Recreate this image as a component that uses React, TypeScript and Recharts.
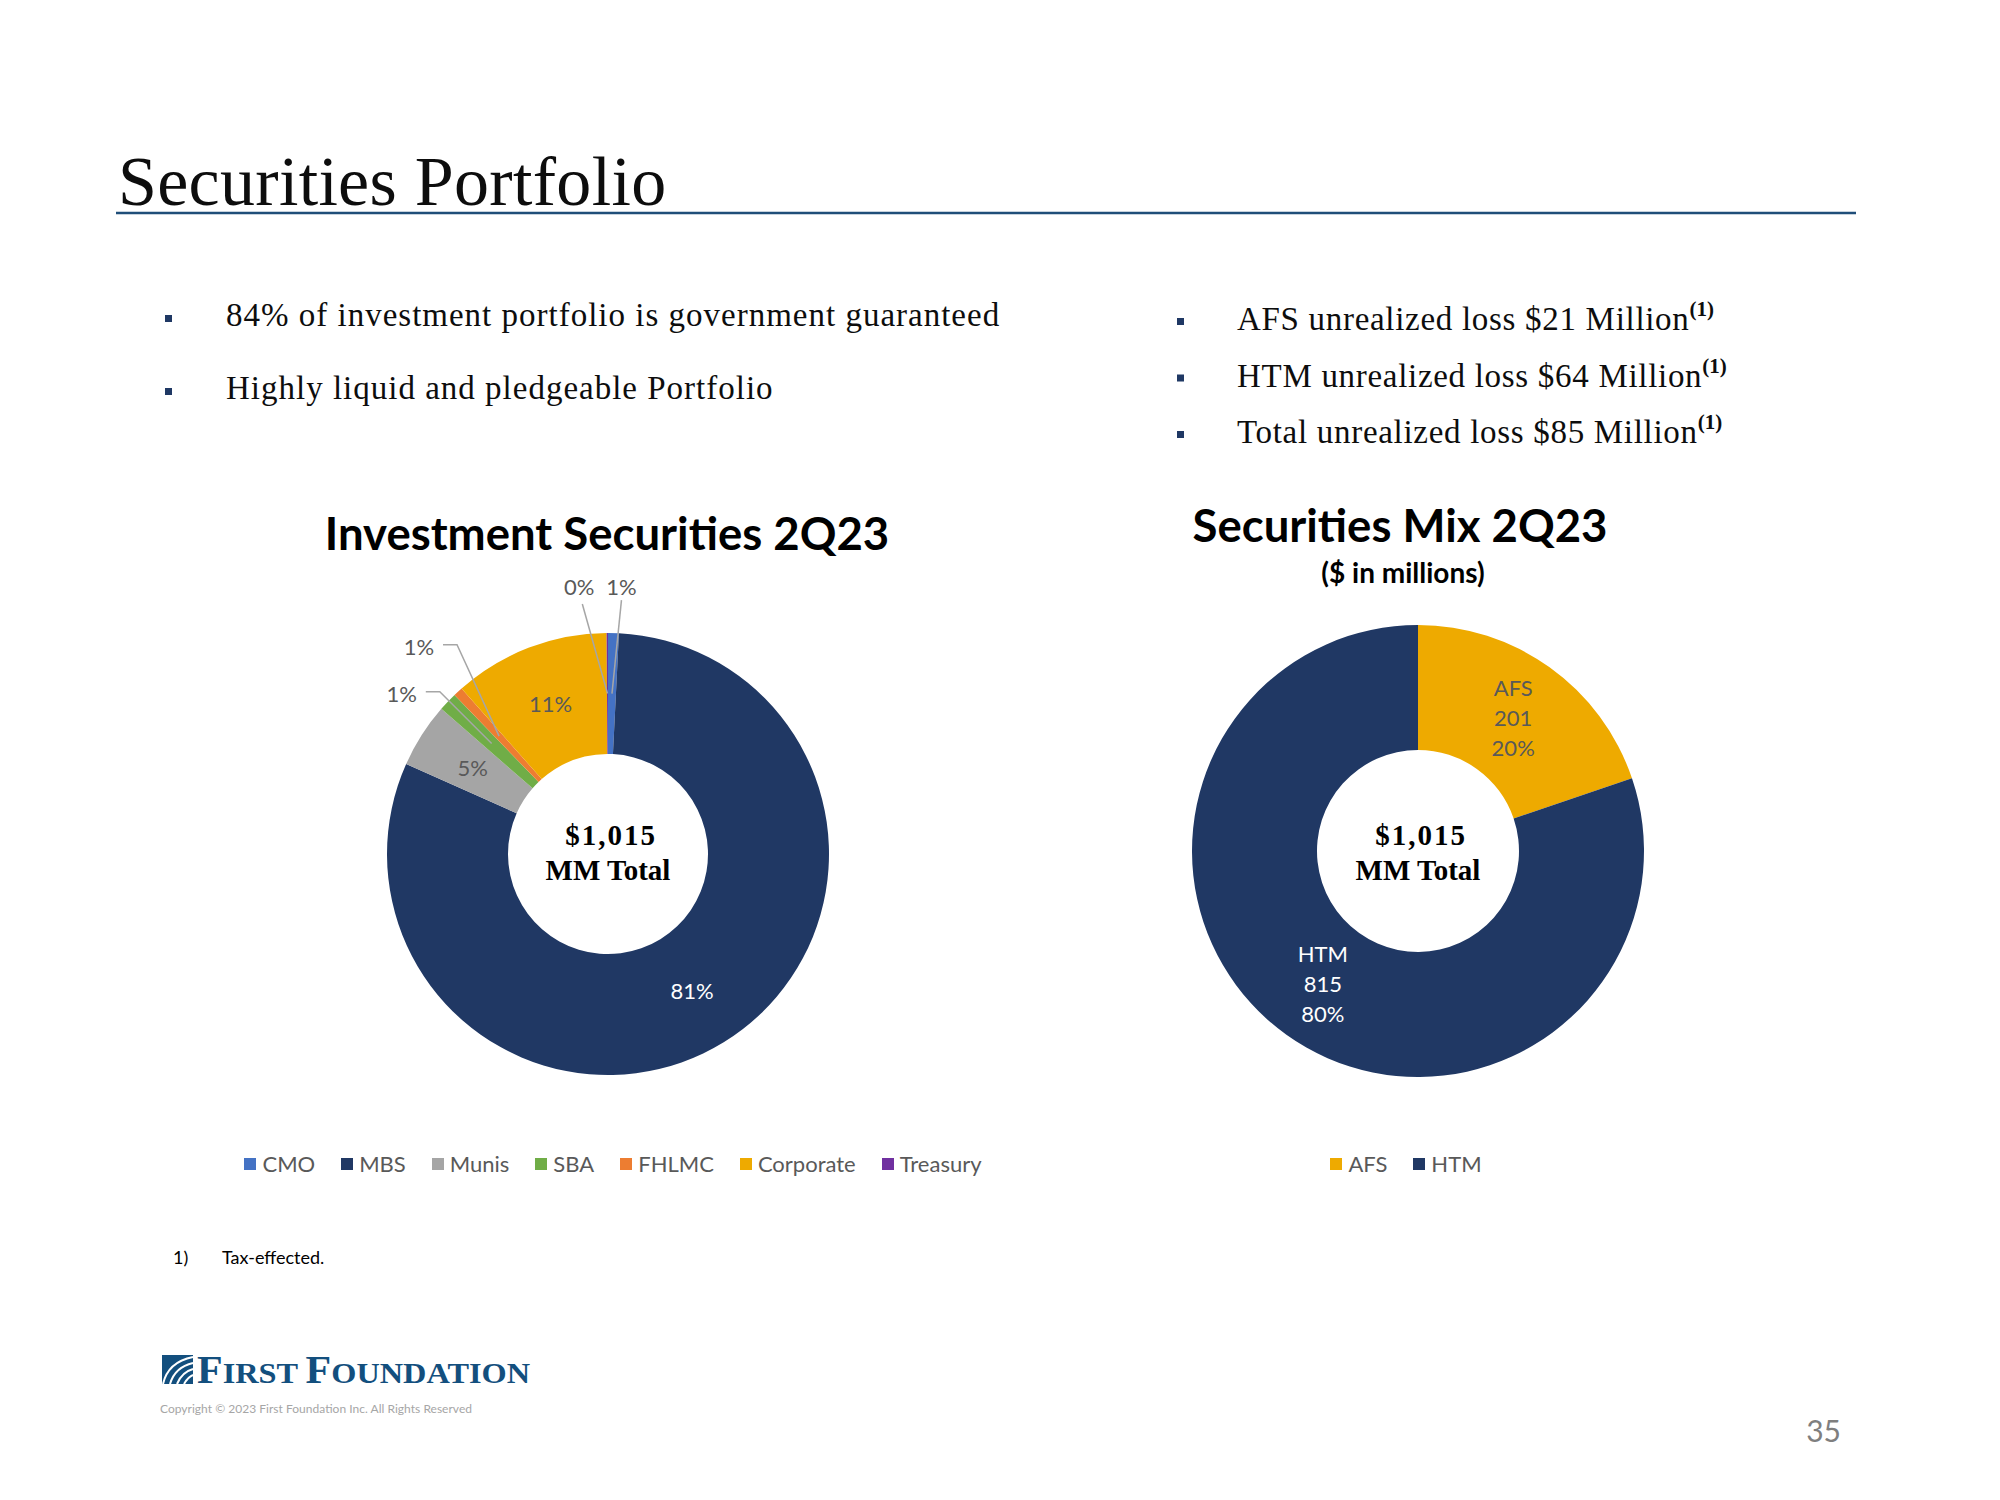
import { PieChart, Pie, Cell, Legend } from "recharts";

// Investment Securities 2Q23 ($MM)
const INV_CATEGORIES = ["CMO", "MBS", "Munis", "SBA", "FHLMC", "Corporate", "Treasury"];
const INV_VALUES = [8, 821, 48, 14, 7, 116, 1];
const INV_COLORS = ["#4472C4", "#203864", "#A5A5A5", "#70AD47", "#ED7D31", "#EEAA00", "#7030A0"];

// Securities Mix 2Q23 ($ in millions)
const MIX_CATEGORIES = ["AFS", "HTM"];
const MIX_VALUES = [201, 815];
const MIX_COLORS = ["#EEAA00", "#203864"];

const CENTER_LINES = ["$1,015", "MM Total"];

const LEFT_BULLETS = ["84% of investment portfolio is government guaranteed", "Highly liquid and pledgeable Portfolio"];
const RIGHT_BULLETS = ["AFS unrealized loss $21 Million", "HTM unrealized loss $64 Million", "Total unrealized loss $85 Million"];

const SERIF = '"Liberation Serif", "Times New Roman", serif';
const SANS = 'Lato, "Open Sans", sans-serif';
const LABEL_GRAY = "#595959";
const RAD = Math.PI / 180;

const invData = INV_CATEGORIES.map((name, i) => ({ name, value: INV_VALUES[i] }));
const mixData = MIX_CATEGORIES.map((name, i) => ({ name, value: MIX_VALUES[i] }));

const polar = (cx: number, cy: number, r: number, deg: number) => ({
  x: cx + r * Math.cos(-deg * RAD),
  y: cy + r * Math.sin(-deg * RAD),
});

// callout placement for the thin slices (offset from the slice's outer edge point)
const INV_CALLOUTS: Record<string, { dx: number; dy: number; ex: number; ey: number; elbow?: boolean }> = {
  CMO: { dx: 8, dy: -46, ex: 0, ey: 13 },
  Treasury: { dx: -28, dy: -46, ex: 3, ey: 17 },
  FHLMC: { dx: -39, dy: -45, ex: 24, ey: -2, elbow: true },
  SBA: { dx: -46, dy: -8, ex: 24, ey: -2, elbow: true },
};

const renderInvLabel = (props: any) => {
  const { cx, cy, midAngle, innerRadius, outerRadius, percent, index } = props;
  const name = INV_CATEGORIES[index];
  const text = `${Math.round(percent * 100)}%`;
  const mid = polar(cx, cy, (innerRadius + outerRadius) / 2, midAngle);
  const c = INV_CALLOUTS[name];
  if (!c) {
    return (
      <text key={name} x={mid.x} y={mid.y + 8} textAnchor="middle" fill={name === "MBS" ? "#fff" : LABEL_GRAY} fontFamily={SANS} fontSize={22}>
        {text}
      </text>
    );
  }
  const edge = polar(cx, cy, outerRadius, midAngle);
  const lx = edge.x + c.dx;
  const ly = edge.y + c.dy;
  const pts = c.elbow
    ? `${mid.x},${mid.y} ${lx + c.ex + 14},${ly + c.ey} ${lx + c.ex},${ly + c.ey}`
    : `${mid.x},${mid.y} ${lx + c.ex},${ly + c.ey}`;
  return (
    <g key={name}>
      <polyline points={pts} fill="none" stroke="#A6A6A6" strokeWidth={1.5} />
      <text x={lx} y={ly + 8} textAnchor="middle" fill={LABEL_GRAY} fontFamily={SANS} fontSize={22}>
        {text}
      </text>
    </g>
  );
};

const renderMixLabel = (props: any) => {
  const { cx, cy, midAngle, innerRadius, outerRadius, percent, index, value } = props;
  const mid = polar(cx, cy, (innerRadius + outerRadius) / 2, midAngle);
  const lines = [MIX_CATEGORIES[index], String(value), `${Math.round(percent * 100)}%`];
  return (
    <text key={index} textAnchor="middle" fill={index === 1 ? "#fff" : LABEL_GRAY} fontFamily={SANS} fontSize={22}>
      {lines.map((l, i) => (
        <tspan key={i} x={mid.x} y={mid.y + 8 + (i - 1) * 30}>
          {l}
        </tspan>
      ))}
    </text>
  );
};

// keep legend entries in data order (recharts sorts them by name otherwise)
const legendContent = (order: string[], shift: number) => (props: any) => {
  const items = [...(props.payload || [])].sort((a: any, b: any) => order.indexOf(a.value) - order.indexOf(b.value));
  return (
    <div style={{ display: "flex", justifyContent: "center", gap: 26, transform: `translateX(${shift}px)` }}>
      {items.map((it: any) => (
        <div key={it.value} style={{ display: "flex", alignItems: "center", gap: 6, fontFamily: SANS, fontSize: 22, color: LABEL_GRAY }}>
          <span style={{ width: 12, height: 12, background: it.color, display: "inline-block" }} />
          <span>{it.value}</span>
        </div>
      ))}
    </div>
  );
};

const CenterText = ({ x }: { x: number }) => (
  <text x={x} textAnchor="middle" fontFamily={SERIF} fontWeight={700} fontSize={29} fill="#000">
    <tspan x={x + 3} y={845} letterSpacing={2}>{CENTER_LINES[0]}</tspan>
    <tspan x={x} y={880}>{CENTER_LINES[1]}</tspan>
  </text>
);

export default function App() {
  return (
    <div style={{ position: "absolute", left: 0, top: 0, width: 2000, height: 1500, background: "#fff", overflow: "hidden" }}>
      <svg width={2000} height={1500} style={{ position: "absolute", left: 0, top: 0 }}>
        <text x={118} y={205} fontFamily={SERIF} fontSize={70} letterSpacing={0.3} fill="#0D0D0D">
          Securities Portfolio
        </text>
        <line x1={116} x2={1856} y1={213} y2={213} stroke="#1F4E79" strokeWidth={2.5} />

        {LEFT_BULLETS.map((t, i) => (
          <g key={t}>
            <rect x={165} y={326 + i * 73 - 11} width={7} height={7} fill="#1F3864" />
            <text x={226} y={326 + i * 73} fontFamily={SERIF} fontSize={33} letterSpacing={1} fill="#0D0D0D">
              {t}
            </text>
          </g>
        ))}
        {RIGHT_BULLETS.map((t, i) => (
          <g key={t}>
            <rect x={1177} y={330 + i * 56.5 - 12} width={7} height={7} fill="#1F3864" />
            <text x={1237} y={330 + i * 56.5} fontFamily={SERIF} fontSize={33} letterSpacing={0.7} fill="#0D0D0D">
              {t}
              <tspan fontSize={21} fontWeight={700} dy={-14} letterSpacing={0}>
                (1)
              </tspan>
            </text>
          </g>
        ))}

        <text x={607} y={550} textAnchor="middle" fontFamily={SANS} fontWeight={700} fontSize={45.5} fill="#000">
          Investment Securities 2Q23
        </text>
        <text x={1400} y={542} textAnchor="middle" fontFamily={SANS} fontWeight={700} fontSize={45.5} fill="#000">
          Securities Mix 2Q23
        </text>
        <text x={1403} y={583} textAnchor="middle" fontFamily={SANS} fontWeight={700} fontSize={28} fill="#000">
          ($ in millions)
        </text>

        <text x={173} y={1264} fontFamily={SANS} fontSize={18} fill="#000">1)</text>
        <text x={222} y={1264} fontFamily={SANS} fontSize={18} fill="#000">Tax-effected.</text>

        <rect x={162} y={1355} width={31} height={29} fill="#134F7E" />
        <path d="M163 1384 Q168 1362 193 1357" stroke="#fff" strokeWidth={2} fill="none" />
        <path d="M170 1384 Q175 1367 193 1363" stroke="#fff" strokeWidth={2} fill="none" />
        <path d="M177 1384 Q182 1372 193 1369" stroke="#fff" strokeWidth={2} fill="none" />
        <path d="M184 1384 Q188 1377 193 1375" stroke="#fff" strokeWidth={2} fill="none" />
        <text x={197} y={1383} fontFamily={SERIF} fontWeight={700} fill="#134F7E" textLength={333} lengthAdjust="spacingAndGlyphs">
          <tspan fontSize={39}>F</tspan>
          <tspan fontSize={30}>IRST </tspan>
          <tspan fontSize={39}>F</tspan>
          <tspan fontSize={30}>OUNDATION</tspan>
        </text>
        <text x={160} y={1413} fontFamily={SANS} fontSize={12} fill="#A6A6A6" textLength={312}>
          Copyright © 2023 First Foundation Inc. All Rights Reserved
        </text>
        <text x={1841} y={1442} textAnchor="end" fontFamily={SANS} fontSize={30} fill="#7F7F7F">35</text>
      </svg>

      <div style={{ position: "absolute", left: 308, top: 494 }}>
        <PieChart width={600} height={720} margin={{ top: 0, right: 0, bottom: 0, left: 0 }}>
          <Pie
            data={invData}
            dataKey="value"
            nameKey="name"
            cx={300}
            cy={360}
            innerRadius={100}
            outerRadius={221}
            startAngle={90}
            endAngle={-270}
            stroke="none"
            label={renderInvLabel}
            labelLine={false}
            isAnimationActive={false}
          >
            {invData.map((d, i) => (
              <Cell key={d.name} fill={INV_COLORS[i]} />
            ))}
          </Pie>
          <Legend verticalAlign="bottom" content={legendContent(INV_CATEGORIES, 5)} wrapperStyle={{ left: 0, bottom: 37, width: 600 }} />
        </PieChart>
      </div>

      <div style={{ position: "absolute", left: 1118, top: 491 }}>
        <PieChart width={600} height={720} margin={{ top: 0, right: 0, bottom: 0, left: 0 }}>
          <Pie
            data={mixData}
            dataKey="value"
            nameKey="name"
            cx={300}
            cy={360}
            innerRadius={101}
            outerRadius={226}
            startAngle={90}
            endAngle={-270}
            stroke="none"
            label={renderMixLabel}
            labelLine={false}
            isAnimationActive={false}
          >
            {mixData.map((d, i) => (
              <Cell key={d.name} fill={MIX_COLORS[i]} />
            ))}
          </Pie>
          <Legend verticalAlign="bottom" content={legendContent(MIX_CATEGORIES, -12)} wrapperStyle={{ left: 0, bottom: 34, width: 600 }} />
        </PieChart>
      </div>

      <svg width={2000} height={1500} style={{ position: "absolute", left: 0, top: 0, pointerEvents: "none" }}>
        <CenterText x={608} />
        <CenterText x={1418} />
      </svg>
    </div>
  );
}
